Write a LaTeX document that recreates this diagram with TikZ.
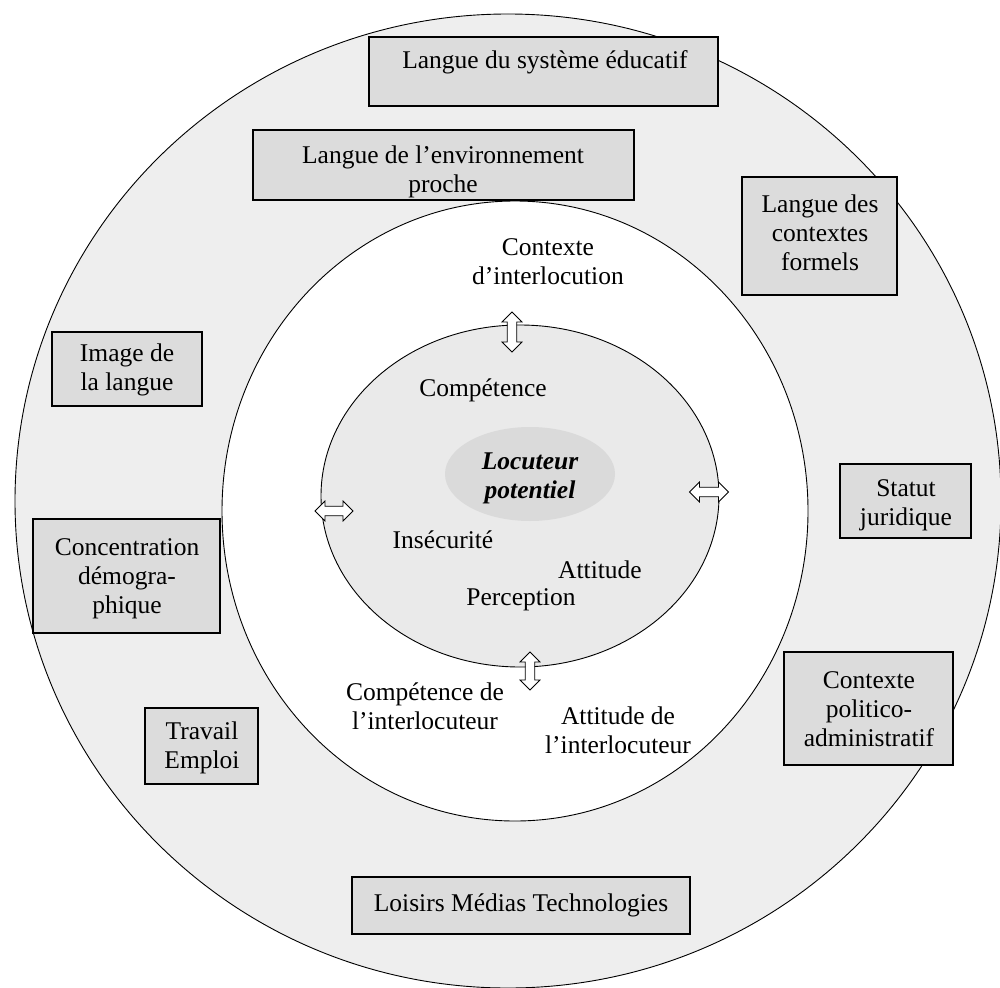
\documentclass[tikz,border=0pt]{standalone}
\usepackage{fontspec}
\setmainfont{Liberation Serif}
\usetikzlibrary{shapes.arrows,shapes.geometric}
\definecolor{ringgray}{HTML}{EEEEEE}
\definecolor{innergray}{HTML}{EAEAEA}
\definecolor{coregray}{HTML}{DADADA}
\definecolor{boxgray}{HTML}{DCDCDC}
\begin{document}
\begin{tikzpicture}[x=1pt,y=-1pt,
  lbl/.style={font=\fontsize{25.5}{29}\selectfont, align=center, inner sep=0pt},
  box/.style={draw, fill=boxgray, line width=1.4pt, inner sep=0pt},
  dbl/.style={double arrow, draw, fill=white, line width=0.8pt, inner sep=4pt,
    double arrow head extend=5pt, minimum width=20pt}]
\useasboundingbox (0,0) rectangle (1000,987);
\fill[white] (0,0) rectangle (1000,987);
% circles
\node[ellipse, draw, fill=ringgray, line width=0.9pt, minimum width=986pt, minimum height=974pt, inner sep=0pt] (outer) at (508,501) {};
\node[ellipse, draw, fill=white, line width=0.9pt, minimum width=586pt, minimum height=620pt, inner sep=0pt] (mid) at (515,511) {};
\node[ellipse, draw, fill=innergray, line width=0.9pt, minimum width=398pt, minimum height=342pt, inner sep=0pt] (inner) at (520,496) {};
\node[ellipse, fill=coregray, minimum width=170pt, minimum height=94pt, inner sep=0pt] (core) at (530,474) {};
% boxes
\node[box, minimum width=349pt, minimum height=69pt] (b1) at (543.5,71.5) {};
\node[box, minimum width=381pt, minimum height=70pt] (b2) at (443.5,165) {};
\node[box, minimum width=155pt, minimum height=118pt] (b3) at (819.5,236) {};
\node[box, minimum width=150pt, minimum height=74pt] (b4) at (127,369) {};
\node[box, minimum width=131pt, minimum height=74pt] (b5) at (905.5,501) {};
\node[box, minimum width=187pt, minimum height=114pt] (b6) at (126.5,576) {};
\node[box, minimum width=113pt, minimum height=76pt] (b7) at (201.5,746) {};
\node[box, minimum width=169pt, minimum height=113pt] (b8) at (868.5,708.5) {};
\node[box, minimum width=338pt, minimum height=57pt] (b9) at (521,905.5) {};
% box texts
\node[lbl] (t1) at (545,62) {Langue du système éducatif};
\node[lbl] (t2) at (443,172) {Langue de l’environnement\\proche};
\node[lbl] (t3) at (820,233) {Langue des\\contextes\\formels};
\node[lbl] (t4) at (127,370) {Image de\\la langue};
\node[lbl] (t5) at (906,505) {Statut\\juridique};
\node[lbl] (t6) at (127,579) {Concentration\\démogra-\\phique};
\node[lbl] (t7) at (202,748) {Travail\\Emploi};
\node[lbl] (t8) at (869,709) {Contexte\\politico-\\administratif};
\node[lbl] (t9) at (521,905) {Loisirs Médias Technologies};
% ring texts
\node[lbl] (ci) at (548,262) {Contexte\\d’interlocution};
\node[lbl] (cpi) at (425,706) {Compétence de\\l’interlocuteur};
\node[lbl] (ati) at (618,730) {Attitude de\\l’interlocuteur};
% inner texts
\node[lbl] (comp) at (483,390) {Compétence};
\node[lbl] (ins) at (443,540) {Insécurité};
\node[lbl] (att) at (600,570) {Attitude};
\node[lbl] (per) at (521,600) {Perception};
\node[lbl, font=\fontsize{25.5}{29}\selectfont\bfseries\itshape] (loc) at (530,478) {Locuteur\\potentiel};
% double arrows
\node[dbl, minimum height=40pt, shape border rotate=90] (at) at (512,332) {};
\node[dbl, minimum height=38pt] (al) at (334,511) {};
\node[dbl, minimum height=39pt] (ar) at (709,492) {};
\node[dbl, minimum height=38pt, shape border rotate=90] (ab) at (530,671) {};
\end{tikzpicture}
\end{document}
